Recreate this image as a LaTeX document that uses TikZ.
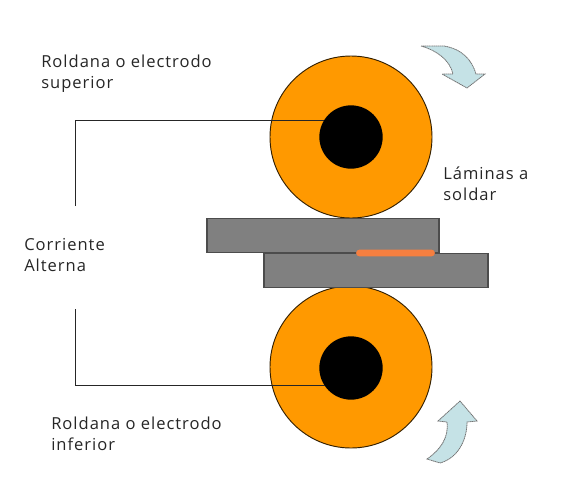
\documentclass[tikz,border=0pt]{standalone}
\usepackage{fontspec}
\setmainfont[LetterSpace=6]{Open Sans}
\usepackage{xcolor}
\usetikzlibrary{positioning}
\definecolor{rollorange}{HTML}{FF9900}
\definecolor{plategray}{HTML}{808080}
\definecolor{weldorange}{HTML}{F57F40}
\definecolor{arrowblue}{HTML}{C5E2E6}

\begin{document}
\begin{tikzpicture}[
    x=0.75pt, y=-0.75pt,
    roller/.style={circle, draw=black!80!rollorange, line width=0.7pt, fill=rollorange, minimum size=121.5pt, inner sep=0pt},
    hub/.style={circle, fill=black, minimum size=47.5pt, inner sep=0pt},
    plate/.style={rectangle, draw=black!70, line width=0.9pt, fill=plategray, minimum height=26pt, inner sep=0pt},
    weld/.style={rectangle, rounded corners=2.4pt, fill=weldorange, minimum width=59pt, minimum height=5pt, inner sep=0pt},
    wire/.style={draw=black!85, line width=0.6pt},
    turn/.style={draw=black!55, dash pattern=on 1pt off 0.4pt, line width=0.6pt, fill=arrowblue},
    label/.style={anchor=north west, align=left, font=\fontsize{12.4pt}{15.5pt}\selectfont, inner sep=0pt, text=black!85}
]
    \useasboundingbox (0,0) rectangle (574,500);

    % Rollers
    \node[roller] (rollsup) at (351,137) {};
    \node[roller] (rollinf) at (351,367) {};
    \node[hub] (hubsup) at (351,137) {};
    \node[hub] (hubinf) at (351,368) {};

    % Sheets
    \node[plate, minimum width=174pt] (platesup) at (323,235.5) {};
    \node[plate, minimum width=168pt] (plateinf) at (376,270.5) {};
    \node[weld] (weldline) at (395.5,253) {};

    % Wires
    \coordinate (wirea) at (75,206);
    \coordinate (wireb) at (75,309);
    \draw[wire] (wirea) |- (hubsup.148);
    \draw[wire] (wireb) |- (hubinf.214);

    % Rotation arrows
    \path[turn] (421,46) -- (444,46) .. controls (462,49) and (472,60) .. (476,74) -- (485,74) -- (467,88) -- (442,74) -- (453,74) .. controls (450,60) and (436,50) .. (421,46) -- cycle;
    \path[turn] (460,401) -- (477,421) -- (467,422) .. controls (467,440) and (458,458) .. (440,463) -- (427,459) .. controls (440,450) and (449,438) .. (447,422) -- (438,421) -- cycle;

    % Labels
    \node[label] (lblsup) at (41,55) {Roldana o electrodo\\superior};
    \node[label] (lblinf) at (51,417) {Roldana o electrodo\\inferior};
    \node[label] (lblsheet) at (443,167) {Láminas a\\soldar};
    \node[label] (lblcurrent) at (24,238) {Corriente\\Alterna};
\end{tikzpicture}
\end{document}
